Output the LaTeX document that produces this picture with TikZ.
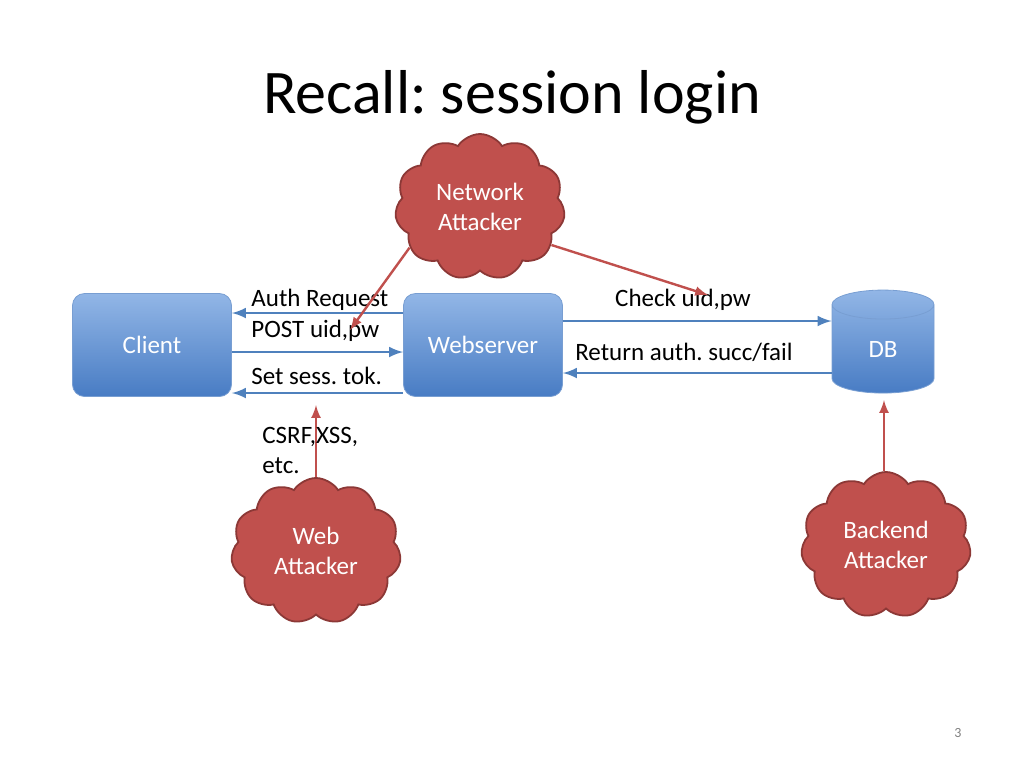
\documentclass[tikz,border=0pt]{standalone}
\usepackage{fontspec}
\setmainfont{Carlito}
\frenchspacing
\usetikzlibrary{shapes,arrows}
\definecolor{boxtop}{RGB}{146,182,230}
\definecolor{boxbottom}{RGB}{72,124,196}
\definecolor{boxedge}{RGB}{120,158,210}
\definecolor{flowblue}{RGB}{79,129,189}
\definecolor{attackred}{RGB}{192,80,77}
\definecolor{attackedge}{RGB}{140,56,54}

\begin{document}
\begin{tikzpicture}[x=0.5pt,y=-0.5pt]
		\tikzstyle {body text} = [font=\fontsize{12.5}{15}\selectfont]
		\tikzstyle {server box} = [body text, rectangle, rounded corners=6pt, draw=boxedge, top color=boxtop, bottom color=boxbottom, minimum width=79.5pt, minimum height=51.5pt, text=white]
		\tikzstyle {attacker cloud} = [body text, cloud, cloud puffs=11, cloud puff arc=115, draw=attackedge, line width=0.9pt, fill=attackred, minimum width=85pt, minimum height=73pt, text=white, align=center, inner sep=0pt]
		\tikzstyle {flow line} = [draw=flowblue, line width=1.4pt, -latex]
		\tikzstyle {attack line} = [draw=attackred, line width=1.2pt, -latex]
		\tikzstyle {flow label} = [body text, inner sep=0pt]

		\useasboundingbox (0,0) rectangle (1024,768);

		\node (title) at (512,97) {\fontsize{31}{36}\selectfont Recall: session login};

		\node[server box] (client) at (152,345) {Client};
		\node[server box] (web) at (483,345) {Webserver};
		\node[body text, cylinder, shape border rotate=90, shape aspect=1, draw=boxedge, top color=boxtop, bottom color=boxbottom, minimum height=51.5pt, minimum width=51pt, inner sep=0pt, text=white] (db) at (883,349) {DB};

		\draw[flow line] (web.west |- 0,313) -- (client.east |- 0,313);
		\draw[flow line] (client.east |- 0,352) -- (web.west |- 0,352);
		\draw[flow line] (web.west |- 0,393) -- (client.east |- 0,393);
		\draw[flow line] (web.east |- 0,321) -- (db.west |- 0,321);
		\draw[flow line] (db.west |- 0,373) -- (web.east |- 0,373);

		\node[flow label, anchor=west] (authreq) at (251,300) {Auth Request};
		\node[flow label, anchor=west] (post) at (251,331) {POST uid,pw};
		\node[flow label, anchor=west] (settok) at (251,376) {Set sess. tok.};
		\node[flow label] (check) at (683,300) {Check uid,pw};
		\node[flow label] (ret) at (684,352) {Return auth. succ/fail};

		\node[attacker cloud] (netatk) at (480,207) {Network\\Attacker};
		\node[attacker cloud] (webatk) at (316,551) {Web\\Attacker};
		\node[attacker cloud] (backatk) at (886,545) {Backend\\Attacker};

		\coordinate (posthit) at (350,330);
		\coordinate (checkhit) at (708,295);
		\coordinate (tokhit) at (316,405);
		\coordinate (dbhit) at (884,400);

		\draw[attack line] (netatk.210) -- (posthit);
		\draw[attack line] (netatk.332) -- (checkhit);
		\draw[attack line] (webatk.north -| tokhit) -- (tokhit);
		\draw[attack line] (backatk.north -| dbhit) -- (dbhit);

		\node[flow label, anchor=west, align=left] (csrf) at (262,450) {CSRF,XSS,\\etc.};

		\node[font=\fontsize{7}{8}\selectfont, text=gray] (page) at (958,733) {3};
	\end{tikzpicture}
\end{document}
